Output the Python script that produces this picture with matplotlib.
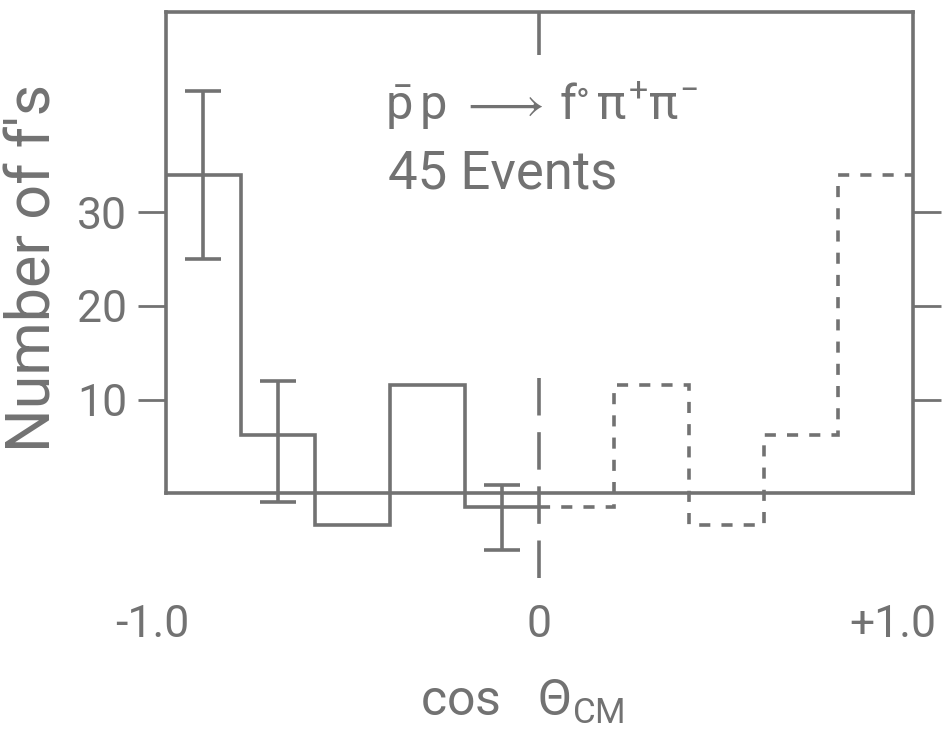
import matplotlib
matplotlib.use("Agg")
import matplotlib.pyplot as plt
from matplotlib.transforms import ScaledTranslation

# ---- data ----
bin_edges = [-1.0, -0.8, -0.6, -0.4, -0.2, 0.0]
counts = [34.0, 6.2, -3.4, 11.5, -1.5]
# reflected (dashed) half, forward-backward mirror
mirror_edges = [0.0, 0.2, 0.4, 0.6, 0.8, 1.0]
mirror_counts = counts[::-1]

err_x = [-0.9, -0.7, -0.1]
err_y = [34.0, 6.2, -1.5]
err_lo = [9.0, 7.2, 4.6]
err_hi = [9.0, 5.8, 2.4]

ytick_vals = [10, 20, 30]
ytick_labels = ["10", "20", "30"]
xtick_vals = [-1.0, 0.0, 1.0]
xtick_labels = ["-1.0", "0", "+1.0"]

title_line1 = r"$\bar{\mathrm{p}}\,\mathrm{p}\;\longrightarrow\,\mathrm{f}^{\circ}\,\pi^{+}\pi^{-}$"
title_line2 = "45 Events"
xlabel = r"cos   $\Theta_{\mathrm{CM}}$"
ylabel = "Number of f's"

# ---- style ----
GRAY = "#727272"
plt.rcParams["font.family"] = ["Roboto", "DejaVu Sans"]
plt.rcParams["mathtext.fontset"] = "custom"
plt.rcParams["mathtext.rm"] = "Roboto"
plt.rcParams["mathtext.it"] = "Roboto"
plt.rcParams["mathtext.bf"] = "Roboto"
plt.rcParams["mathtext.fallback"] = "stixsans"
plt.rcParams["lines.scale_dashes"] = False
LW = 2.6

fig = plt.figure(figsize=(9.45, 7.4), dpi=100)
ax = fig.add_axes([166 / 945, 1 - 600 / 740, 747 / 945, 588 / 740])

px_per_unit = 9.35
ymax = (493 - 12) / px_per_unit
ymin = -(600 - 493) / px_per_unit
ax.set_xlim(-1, 1)
ax.set_ylim(ymin, ymax)

# frame
for side in ["left", "right", "top", "bottom"]:
    ax.spines[side].set_color(GRAY)
    ax.spines[side].set_linewidth(LW)
ax.spines["left"].set_bounds(0, ymax)
ax.spines["right"].set_bounds(0, ymax)
ax.spines["bottom"].set_position(("data", 0))

# histogram (solid measured half, dashed reflected half)
ax.stairs(counts, bin_edges, baseline=None, color=GRAY, lw=LW)
ax.stairs(mirror_counts, mirror_edges, baseline=None, color=GRAY, lw=LW,
          linestyle=(0, (8, 8)))

# error bars
ax.errorbar(err_x, err_y, yerr=[err_lo, err_hi], fmt="none", ecolor=GRAY,
            elinewidth=LW, capsize=13, capthick=LW)

# centre line at cos = 0
ax.plot([0, 0], [ymax, 46.8], color=GRAY, lw=LW, solid_capstyle="butt")
ax.plot([0, 0], [12.3, -9.6], color=GRAY, lw=LW, linestyle=(0, (27, 12)))

# y ticks on both sides
ax.set_yticks(ytick_vals, ytick_labels)
ax.tick_params(axis="y", which="both", left=True, right=True, direction="out",
               length=20, width=2, color=GRAY, labelcolor=GRAY, labelsize=32,
               pad=8)

# x tick labels
ax.set_xticks(xtick_vals, xtick_labels)
ax.tick_params(axis="x", length=0, labelcolor=GRAY, labelsize=32, pad=80)
shifts = [-14, 0, -20]
for lab, dx in zip(ax.get_xticklabels(), shifts):
    lab.set_transform(lab.get_transform() + ScaledTranslation(dx / 100, 0, fig.dpi_scale_trans))

ax.set_xlabel(xlabel, fontsize=36, color=GRAY)
ax.xaxis.set_label_coords((522 - 166) / 747, (600 - 702) / 588)
ax.xaxis.label.set_va("center")
ax.set_ylabel(ylabel, fontsize=44, color=GRAY)
ax.yaxis.set_label_coords((33 - 166) / 747, (600 - 268) / 588)
ax.yaxis.label.set_va("center")

ax.text((385 - 166) / 747, (600 - 106) / 588, title_line1, transform=ax.transAxes,
        fontsize=35, color=GRAY, ha="left", va="center")
ax.text((388 - 166) / 747, (600 - 174) / 588, title_line2, transform=ax.transAxes,
        fontsize=38, color=GRAY, ha="left", va="center")

fig.savefig("out.png", dpi=100)
